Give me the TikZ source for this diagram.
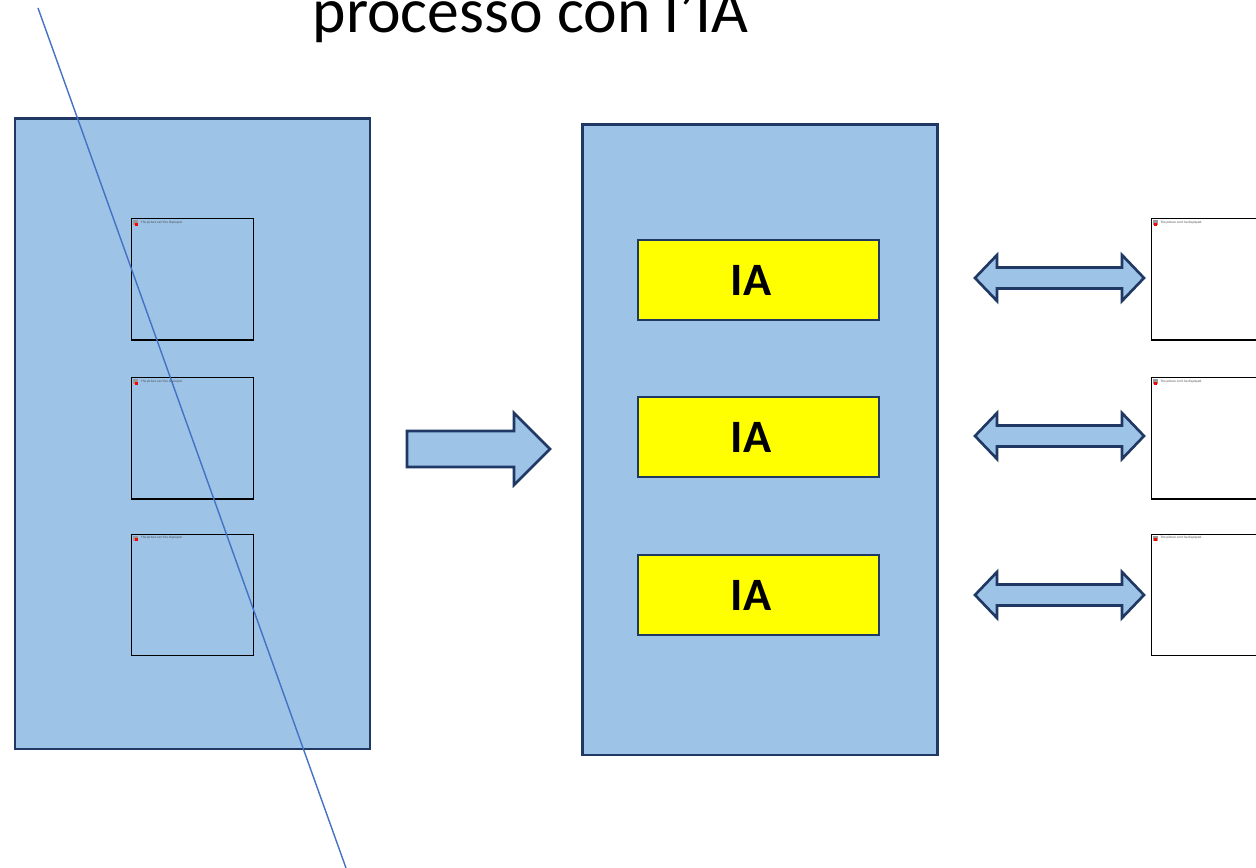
\documentclass[tikz,border=0pt]{standalone}
\usepackage{fontspec}
\setmainfont{Carlito}
\usetikzlibrary{positioning}

\definecolor{boxblue}{HTML}{9DC3E6}
\definecolor{navy}{HTML}{1F3864}
\definecolor{lineblue}{HTML}{4472C4}
\definecolor{iayellow}{HTML}{FFFF00}

\tikzset{
  bigbox/.style={rectangle,draw=navy,fill=boxblue,line width=.75pt,
    minimum width=3.55cm,minimum height=6.3cm,inner sep=0pt},
  iabox/.style={rectangle,draw=navy,fill=iayellow,line width=.75pt,
    minimum width=2.41cm,minimum height=.8cm,inner sep=0pt},
  iatext/.style={font=\fontsize{13.2pt}{15pt}\selectfont\bfseries,inner sep=0pt},
  picbox/.style={rectangle,draw=black,line width=.3pt,
    minimum width=1.21cm,minimum height=1.21cm,inner sep=0pt},
  arrowshape/.style={draw=navy,fill=boxblue,line width=.75pt,line join=miter},
}

% placeholder of a picture that could not be shown
\newcommand{\missingpic}[1]{%
  \fill[gray!80] ([shift={(2,2)}]#1.north west) rectangle ++(5,5);
  \fill[red] ([shift={(3.5,4.5)}]#1.north west) rectangle ++(3,3);
  \node[anchor=west,inner sep=0pt,text=black!70,
    font=\fontsize{0.95pt}{1.1pt}\selectfont]
    at ([shift={(9,4)}]#1.north west) {The picture can't be displayed.};}

\begin{document}
\begin{tikzpicture}[x={(0.01cm,0)},y={(0,-0.01cm)}]
  \clip (0,0) rectangle (1256,868);
  \fill[white] (0,0) rectangle (1256,868);

  \node[anchor=base,font=\fontsize{18.1pt}{21pt}\selectfont] (title) at (530.5,33) {processo con l’IA};

  \node[bigbox] (src) at (192.5,434) {};
  \node[bigbox] (sys) at (760,440) {};

  \foreach \n/\yp/\yi/\ya in {1/279.5/280/278, 2/438.5/437/436, 3/595/595/595} {
    \node[picbox] (in\n) at (192.5,\yp) {};
    \missingpic{in\n}
    \node[iabox] (ia\n) at (758.5,\yi) {};
    \node[iatext] at ([shift={(-7.5,0)}]ia\n.center) {IA};
    \node[picbox,fill=white,anchor=west] (out\n) at (1151,\yp) {};
    \missingpic{out\n}
    % two-headed arrow between IA and the picture
    \coordinate (l\n) at (975,\ya);
    \coordinate (r\n) at (1144,\ya);
    \draw[arrowshape] (l\n) -- ++(22,-23) -- ++(0,12.5) -- ([shift={(-22,-10.5)}]r\n)
      -- ++(0,-12.5) -- (r\n) -- ++(-22,23) -- ++(0,-12.5) -- ([shift={(22,10.5)}]l\n)
      -- ++(0,12.5) -- cycle;
  }

  % arrow from the old process to the new one
  \coordinate (tip) at (550,449);
  \draw[arrowshape] (407,431) -- (514,431) -- (514,413) -- (tip)
    -- (514,485) -- (514,467) -- (407,467) -- cycle;

  \draw[lineblue,line width=.4pt] (38,8) -- (346,868);
\end{tikzpicture}
\end{document}
